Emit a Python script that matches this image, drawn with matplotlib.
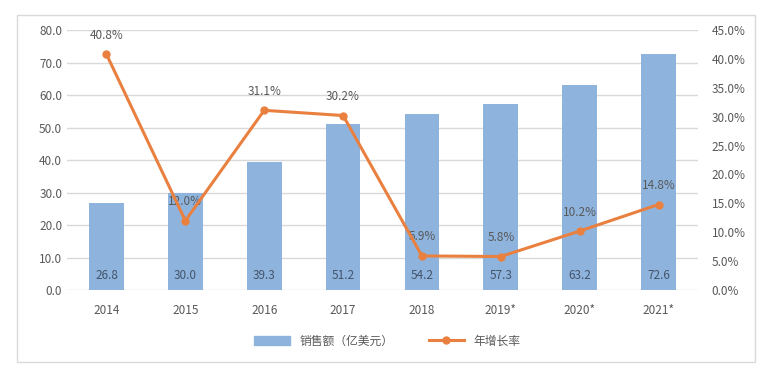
import matplotlib.pyplot as plt
from matplotlib.patches import Rectangle
from matplotlib.lines import Line2D
from matplotlib.patches import Patch

plt.rcParams['font.family'] = ['Noto Sans CJK SC', 'DejaVu Sans']

years = ['2014', '2015', '2016', '2017', '2018', '2019*', '2020*', '2021*']
sales = [26.8, 30.0, 39.3, 51.2, 54.2, 57.3, 63.2, 72.6]
growth = [40.8, 12.0, 31.1, 30.2, 5.9, 5.8, 10.2, 14.8]

bar_c = '#8EB4DE'
line_c = '#E9803F'
txt_c = '#595959'

fig = plt.figure(figsize=(7.75, 3.79), dpi=100)
fig.patches.append(Rectangle((17 / 775, 1 - 362 / 379), 738 / 775, 347 / 379,
                             transform=fig.transFigure, fill=False,
                             edgecolor='#D9D9D9', lw=1))
ax = fig.add_axes([0.0865, 0.2348, 0.8141, 0.686])
x = range(len(years))
ax.bar(x, sales, width=0.44, color=bar_c, zorder=2)
for i, v in enumerate(sales):
    ax.text(i, 2.5, f'{v:.1f}', ha='center', va='bottom', fontsize=8.5, color='#44546A', zorder=5)

ax.set_ylim(0, 80)
ax.set_yticks(range(0, 81, 10))
ax.set_yticklabels([f'{v:.1f}' for v in range(0, 81, 10)])
ax.set_xlim(-0.5, len(years) - 0.5)
ax.set_xticks(list(x))
ax.set_xticklabels(years)
ax.grid(axis='y', color='#D9D9D9', lw=1, zorder=0)
for s in ax.spines.values():
    s.set_visible(False)
ax.tick_params(length=0, labelsize=8.5, colors=txt_c)
ax.tick_params(axis='x', pad=10)

ax2 = ax.twinx()
ax2.plot(list(x), growth, color=line_c, lw=2.2, marker='o', ms=5, zorder=4)
for i, v in enumerate(growth):
    ax2.annotate(f'{v:.1f}%', (i, v), xytext=(0, 9), textcoords='offset points',
                 ha='center', va='bottom', fontsize=8.5, color=txt_c)
ax2.set_ylim(0, 45)
ax2.set_yticks(range(0, 46, 5))
ax2.set_yticklabels([f'{v:.1f}%' for v in range(0, 46, 5)])
for s in ax2.spines.values():
    s.set_visible(False)
ax2.tick_params(length=0, labelsize=8.5, colors=txt_c, pad=10)

handles = [Patch(color=bar_c), Line2D([], [], color=line_c, lw=2.2, marker='o', ms=5)]
fig.legend(handles, ['销售额（亿美元）', '年增长率'], loc='center', bbox_to_anchor=(0.5, 1 - 341 / 379),
           ncol=2, frameon=False, fontsize=8.5, labelcolor=txt_c, handlelength=3, columnspacing=3)

fig.savefig('out.png', dpi=100)
